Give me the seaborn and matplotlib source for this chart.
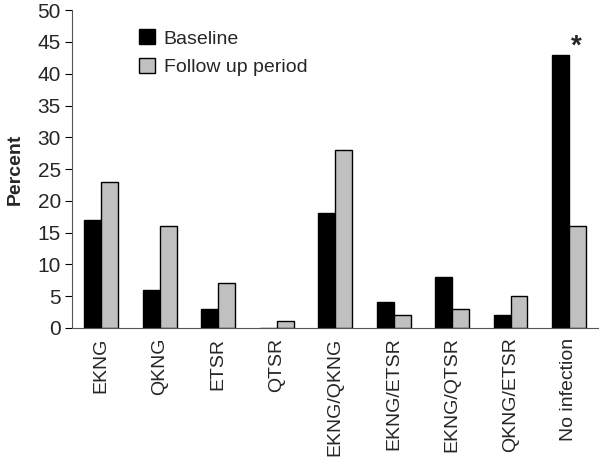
import matplotlib
matplotlib.use('Agg')
import matplotlib.pyplot as plt
import pandas as pd
import seaborn as sns

categories = ['EKNG', 'QKNG', 'ETSR', 'QTSR', 'EKNG/QKNG', 'EKNG/ETSR',
              'EKNG/QTSR', 'QKNG/ETSR', 'No infection']
baseline = [17, 6, 3, 0, 18, 4, 8, 2, 43]
follow_up = [23, 16, 7, 1, 28, 2, 3, 5, 16]
series = ['Baseline', 'Follow up period']

sns.set_style('white')
plt.rcParams['font.family'] = ['Liberation Sans', 'DejaVu Sans']

data = pd.DataFrame({
    'category': categories * 2,
    'period': [series[0]] * len(categories) + [series[1]] * len(categories),
    'value': baseline + follow_up,
})

fig = plt.figure(figsize=(6, 4.65), dpi=100)
ax = fig.add_axes([0.12, 0.295, 0.877, 0.683])
sns.barplot(data=data, x='category', y='value', hue='period', order=categories,
            hue_order=series, palette=['black', '#c0c0c0'], edgecolor='black',
            linewidth=1, width=0.58, gap=0, ax=ax)

ax.set_ylim(0, 50)
ax.set_yticks(range(0, 51, 5))
ax.set_xlim(-0.5, len(categories) - 0.5)
ax.set_xticks(range(len(categories)))
ax.set_xticklabels(categories, rotation=90, fontsize=14)
ax.set_xticks([i + 0.5 for i in range(len(categories))], minor=True)
ax.tick_params(axis='x', which='major', length=0, pad=7)
ax.tick_params(axis='x', which='minor', length=5, width=0.8, color='black', direction='out')
ax.tick_params(axis='y', labelsize=15, length=5, width=0.8, color='black', direction='out',
               left=True, pad=3)
ax.set_xlabel('')
ax.set_ylabel('Percent', fontsize=14, fontweight='bold', labelpad=10)
sns.despine(ax=ax)
for s in ['left', 'bottom']:
    ax.spines[s].set_color('#555555')
    ax.spines[s].set_linewidth(0.8)

ax.text(8.12, 42.3, '*', fontsize=20, fontweight='bold', ha='center', va='bottom')

ax.legend(loc='upper left', bbox_to_anchor=(0.095, 0.995), frameon=False, fontsize=14,
          handlelength=0.8, handleheight=0.8, handletextpad=0.45, labelspacing=0.55)

fig.savefig('out.png', dpi=100)
